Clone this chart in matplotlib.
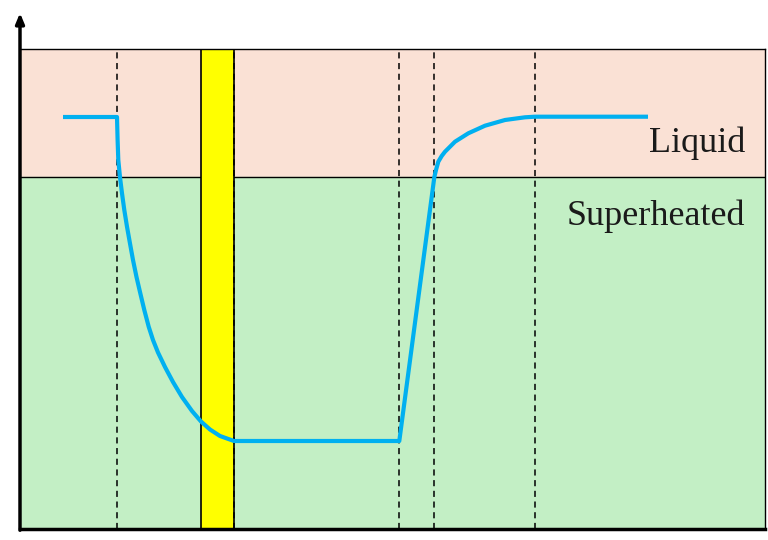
import matplotlib
matplotlib.use("Agg")
import matplotlib.pyplot as plt

# data (axis units)
x_max = 745
y_max = 480
boundary = 352
bar_left, bar_right = 181, 214
dashed_x = [97, 214, 379, 414, 515]

curve_x = [43, 97, 97.6, 98.3, 100, 102, 104.3, 107, 110, 113, 116.5, 120.3, 124.3, 128.7, 133,
           138, 145, 153, 162, 172, 181, 190, 200, 214,
           379.3, 414.3, 416, 418.3, 421.7, 425, 435, 448.3, 465, 485, 505, 515, 628]
curve_y = [412, 412, 389, 369, 351.7, 335.7, 319, 302.3, 285.5, 269, 252, 235.7, 219, 202.3, 189,
           176.5, 162, 147, 132, 118, 107.5, 99.5, 93, 88,
           88, 351.7, 359, 367.3, 373, 377.3, 387.3, 395.7, 403.3, 409, 411.7, 412.3, 412.3]

labels = ["Liquid", "Superheated"]

fig = plt.figure(figsize=(7.68, 5.4), dpi=100)
ax = fig.add_axes([20/768, 11/540, 745/768, 480/540])
ax.set_xlim(0, x_max)
ax.set_ylim(0, y_max)

ax.axhspan(boundary, y_max, color="#FAE1D5", zorder=0)
ax.axhspan(0, boundary, color="#C3EFC5", zorder=0)
ax.axhline(boundary, color="black", lw=1.0, zorder=1)

ax.axvspan(bar_left, bar_right, facecolor="#FFFF00", edgecolor="black", lw=1.2, zorder=2)

for xd in dashed_x:
    ax.axvline(xd, color="black", lw=1.1, ls=(0, (4, 3)), zorder=2.3)

ax.plot(curve_x, curve_y, color="#00B0F0", lw=3.0, zorder=3, solid_capstyle="butt",
        solid_joinstyle="round")

serif = ["Liberation Serif", "DejaVu Serif"]
ax.text(725, 377.5, labels[0], ha="right", va="baseline", fontsize=26, family=serif, color="#1a1a1a", zorder=4)
ax.text(725, 304, labels[1], ha="right", va="baseline", fontsize=26, family=serif, color="#1a1a1a", zorder=4)

for s in ["top", "right"]:
    ax.spines[s].set_linewidth(1.0)
ax.spines["left"].set_visible(False)
ax.spines["bottom"].set_linewidth(2.5)
ax.set_xticks([])
ax.set_yticks([])

ax.annotate("", xy=(0, 516), xytext=(0, -1.2), xycoords="data", textcoords="data",
            arrowprops=dict(arrowstyle="-|>,head_width=0.25,head_length=0.6", lw=2.5, color="black",
                            shrinkA=0, shrinkB=0), annotation_clip=False, zorder=5)

fig.savefig("out.png", dpi=100)
